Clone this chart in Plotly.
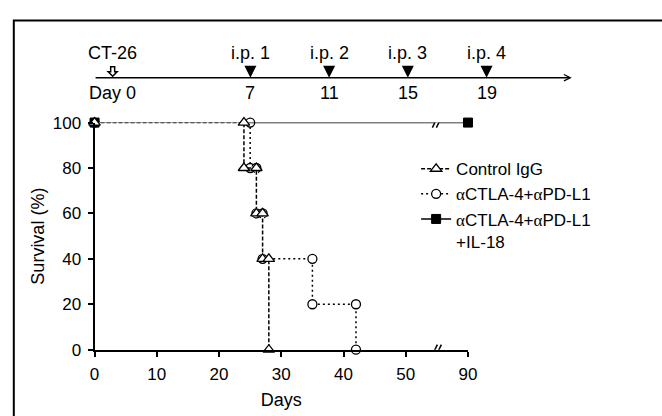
import plotly.graph_objects as go

W, H = 662, 416

# ---------------- data ----------------
control_days = [0, 24, 24, 26, 26, 27, 27, 28, 28]
control_surv = [100, 100, 80, 80, 60, 60, 40, 40, 0]

combo_days = [0, 25, 25, 26, 26, 27, 27, 35, 35, 42, 42]
combo_surv = [100, 100, 80, 80, 60, 60, 40, 40, 20, 20, 0]

il18_days = [0, 90]
il18_surv = [100, 100]

x_tick_days = [0, 10, 20, 30, 40, 50, 90]
y_ticks = [0, 20, 40, 60, 80, 100]

schedule_days = [0, 7, 11, 15, 19]
schedule_top = ["CT-26", "i.p. 1", "i.p. 2", "i.p. 3", "i.p. 4"]
schedule_bottom = ["Day 0", "7", "11", "15", "19"]
injection_days = [7, 11, 15, 19]

# axis break: days between BREAK_AT and BREAK_AT + BREAK_GAP are cut out
BREAK_AT = 55
BREAK_GAP = 30


def bx(d):
    return d if d <= BREAK_AT else d - BREAK_GAP


def bxs(days):
    return [bx(d) for d in days]


FONT = "Liberation Sans, Arial, sans-serif"
A = "<span style='font-family:Liberation Serif'>α</span>"

fig = go.Figure()

# combo group (drawn first, beneath)
fig.add_trace(go.Scatter(
    x=bxs(combo_days), y=combo_surv, mode="lines+markers",
    name=f"{A}CTLA-4+{A}PD-L1", legendrank=2,
    line=dict(color="black", width=1.5, dash="2px,3px"),
    marker=dict(symbol="circle", size=9, color="white",
                line=dict(color="black", width=1.3)),
    cliponaxis=False,
))
# IL-18 group
fig.add_trace(go.Scatter(
    x=bxs(il18_days), y=il18_surv, mode="lines+markers",
    name=f"{A}CTLA-4+{A}PD-L1<br>+IL-18", legendrank=3,
    line=dict(color="black", width=1.5),
    marker=dict(symbol="square", size=9, color="black",
                line=dict(color="black", width=1)),
    cliponaxis=False,
))
# white backing so the control dashes show gaps
fig.add_trace(go.Scatter(
    x=bxs(control_days), y=control_surv, mode="lines",
    line=dict(color="white", width=3), showlegend=False, hoverinfo="skip",
    cliponaxis=False,
))
# control
fig.add_trace(go.Scatter(
    x=bxs(control_days), y=control_surv, mode="lines+markers",
    name="Control IgG", legendrank=1,
    line=dict(color="black", width=1.5, dash="4px,2px"),
    marker=dict(symbol="triangle-up", size=10, color="white",
                line=dict(color="black", width=1.3)),
    cliponaxis=False,
))

# timeline injections
fig.add_trace(go.Scatter(
    x=injection_days, y=[0] * len(injection_days), mode="markers",
    xaxis="x2", yaxis="y2", showlegend=False, hoverinfo="skip",
    marker=dict(symbol="arrow-down", size=12, color="black"),
    cliponaxis=False,
))

# ---------------- layout ----------------
x0_px, x1_px = 91.5, 473
y0_px, y1_px = 357, 119

fig.update_layout(
    width=W, height=H,
    margin=dict(l=0, r=0, t=0, b=0),
    paper_bgcolor="white", plot_bgcolor="white",
    font=dict(family=FONT, size=17, color="black"),
    xaxis=dict(
        domain=[x0_px / W, x1_px / W], range=[0, bx(90)],
        tickvals=bxs(x_tick_days), ticktext=[str(d) for d in x_tick_days],
        ticks="outside", ticklen=5, tickwidth=1.5, tickcolor="black",
        showline=True, linewidth=2, linecolor="black",
        showgrid=False, zeroline=False,
        tickfont=dict(size=17), ticklabelstandoff=3,
        title=dict(text="Days", font=dict(size=18), standoff=10),
        fixedrange=True,
    ),
    yaxis=dict(
        domain=[1 - y0_px / H, 1 - y1_px / H], range=[0, 100],
        tickvals=y_ticks,
        ticks="outside", ticklen=5, tickwidth=1.5, tickcolor="black",
        showline=True, linewidth=2, linecolor="black",
        showgrid=False, zeroline=False,
        tickfont=dict(size=17), ticklabelstandoff=3,
        title=dict(text="Survival (%)", font=dict(size=18), standoff=3),
        fixedrange=True,
    ),
    xaxis2=dict(
        domain=[91 / W, 579 / W], range=[-0.945, 23.33], anchor="y2",
        visible=False, fixedrange=True,
    ),
    yaxis2=dict(
        domain=[1 - 100 / H, 1 - 44 / H], range=[-1, 1], anchor="x2",
        visible=False, fixedrange=True,
    ),
    legend=dict(
        x=420 / W, y=1 - 149 / H, xanchor="left", yanchor="top",
        font=dict(size=17), valign="top",
        bgcolor="rgba(0,0,0,0)", traceorder="normal",
    ),
    showlegend=True,
)

annotations = []
# timeline axis arrow
annotations.append(dict(
    x=23.33, y=0, xref="x2", yref="y2", ax=-0.945, ay=0, axref="x2", ayref="y2",
    text="", showarrow=True, arrowhead=5, arrowsize=0.9, arrowwidth=1.4,
    arrowcolor="black",
))
for d, t in zip(schedule_days, schedule_top):
    annotations.append(dict(x=d, y=0.93, xref="x2", yref="y2", text=t,
                            showarrow=False, font=dict(size=18), yanchor="middle"))
for d, t in zip(schedule_days, schedule_bottom):
    annotations.append(dict(x=d, y=-0.57, xref="x2", yref="y2", text=t,
                            showarrow=False, font=dict(size=18), yanchor="middle"))
fig.update_layout(annotations=annotations)

shapes = []
# outer frame (cropped at right/bottom)
shapes.append(dict(type="rect", xref="paper", yref="paper",
                   x0=9 / W, x1=1.05, y0=-0.05, y1=1 - 12 / H,
                   line=dict(color="black", width=2), fillcolor="rgba(0,0,0,0)",
                   layer="above"))
# hollow block arrow marking tumour inoculation (day 0)
shapes.append(dict(type="path", xref="x2", yref="y2",
                   xsizemode="pixel", xanchor=schedule_days[0],
                   ysizemode="pixel", yanchor=0,
                   path="M-2,11 L2,11 L2,6 L4.5,6 L0,1.5 L-4.5,6 L-2,6 Z",
                   line=dict(color="black", width=1.5), fillcolor="white",
                   layer="above"))
# axis-break marks on x axis and on the IL-18 line
for yv in (0, il18_surv[-1]):
    shapes.append(dict(type="rect", xref="x", yref="y",
                       xsizemode="pixel", xanchor=BREAK_AT, x0=-2.5, x1=2.5,
                       ysizemode="pixel", yanchor=yv, y0=-2.5, y1=2.5,
                       fillcolor="white", line=dict(width=0), layer="above"))
    for c in (-2, 2):
        shapes.append(dict(type="line", xref="x", yref="y",
                           xsizemode="pixel", xanchor=BREAK_AT, x0=c - 2.5, x1=c + 2.5,
                           ysizemode="pixel", yanchor=yv, y0=-5, y1=5,
                           line=dict(color="black", width=1.5), layer="above"))
fig.update_layout(shapes=shapes)

fig.write_html("out.html", config={"displayModeBar": False},
               post_script="document.body.style.margin='0';")
